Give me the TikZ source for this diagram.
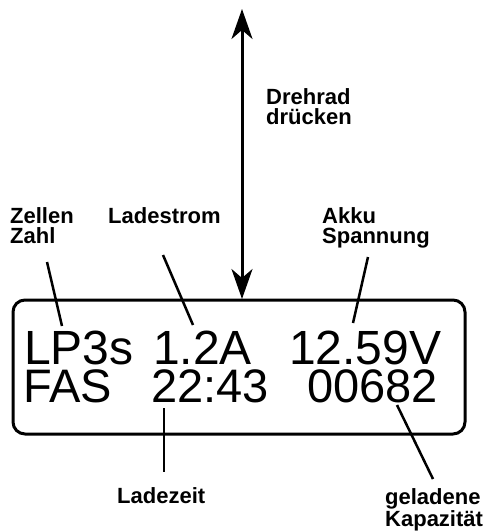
\documentclass[tikz,border=0pt]{standalone}
\usepackage{fontspec}
\setmainfont{Liberation Sans}
\usetikzlibrary{arrows.meta}
\begin{document}
\begin{tikzpicture}[x=1pt,y=-1pt,
  lbl/.style={font=\bfseries\fontsize{22}{20}\selectfont, inner sep=0pt, anchor=base west, align=left},
  disp/.style={font=\fontsize{48}{48}\selectfont, inner sep=0pt, anchor=base west, text height=35pt, text depth=0pt},
  dispb/.style={disp, font=\fontsize{47}{47}\selectfont, text height=33pt},
  lead/.style={line width=2.5pt},
  panel/.style={line width=3pt, rounded corners=12pt}]
\useasboundingbox (0,0) rectangle (490,531);
% display frame
\draw[panel] (13,300) rectangle (465,434);
\coordinate (boxtop) at (242,299);
\coordinate (arrtop) at (242,9);
\draw[line width=3pt, {Stealth[length=30pt,width=21pt,inset=9pt]}-{Stealth[length=30pt,width=21pt,inset=9pt]}] (arrtop) -- (boxtop);
% display text
\node[disp] (lp) at (24,364) {LP3s};
\node[disp] (amp) at (153,364) {1.2A};
\node[disp] (volt) at (289,364) {12.59V};
\node[dispb] (fas) at (23,402) {FAS};
\node[dispb] (time) at (151,402) {22:43};
\node[dispb] (cap) at (307,402) {00682};
% labels (anchor at baseline of last line)
\node[lbl] (drehrad) at (266,124) {Drehrad\\drücken};
\node[lbl] (zellen) at (10,243) {Zellen\\Zahl};
\node[lbl] (ladestrom) at (108,223) {Ladestrom};
\node[lbl] (akku) at (322,243) {Akku\\Spannung};
\node[lbl] (ladezeit) at (117,503) {Ladezeit};
\node[lbl] (geladen) at (385,526) {geladene\\Kapazität};
% leader lines
\coordinate (z1) at (47,262); \coordinate (z2) at (62,326);
\coordinate (s1) at (163,255); \coordinate (s2) at (193,325);
\coordinate (a1) at (368,257); \coordinate (a2) at (353,323);
\coordinate (t1) at (164,408); \coordinate (t2) at (164,472);
\coordinate (k1) at (397,405); \coordinate (k2) at (433,479);
\draw[lead] (z1) -- (z2);
\draw[lead] (s1) -- (s2);
\draw[lead] (a1) -- (a2);
\draw[lead] (t1) -- (t2);
\draw[lead] (k1) -- (k2);
\end{tikzpicture}
\end{document}
